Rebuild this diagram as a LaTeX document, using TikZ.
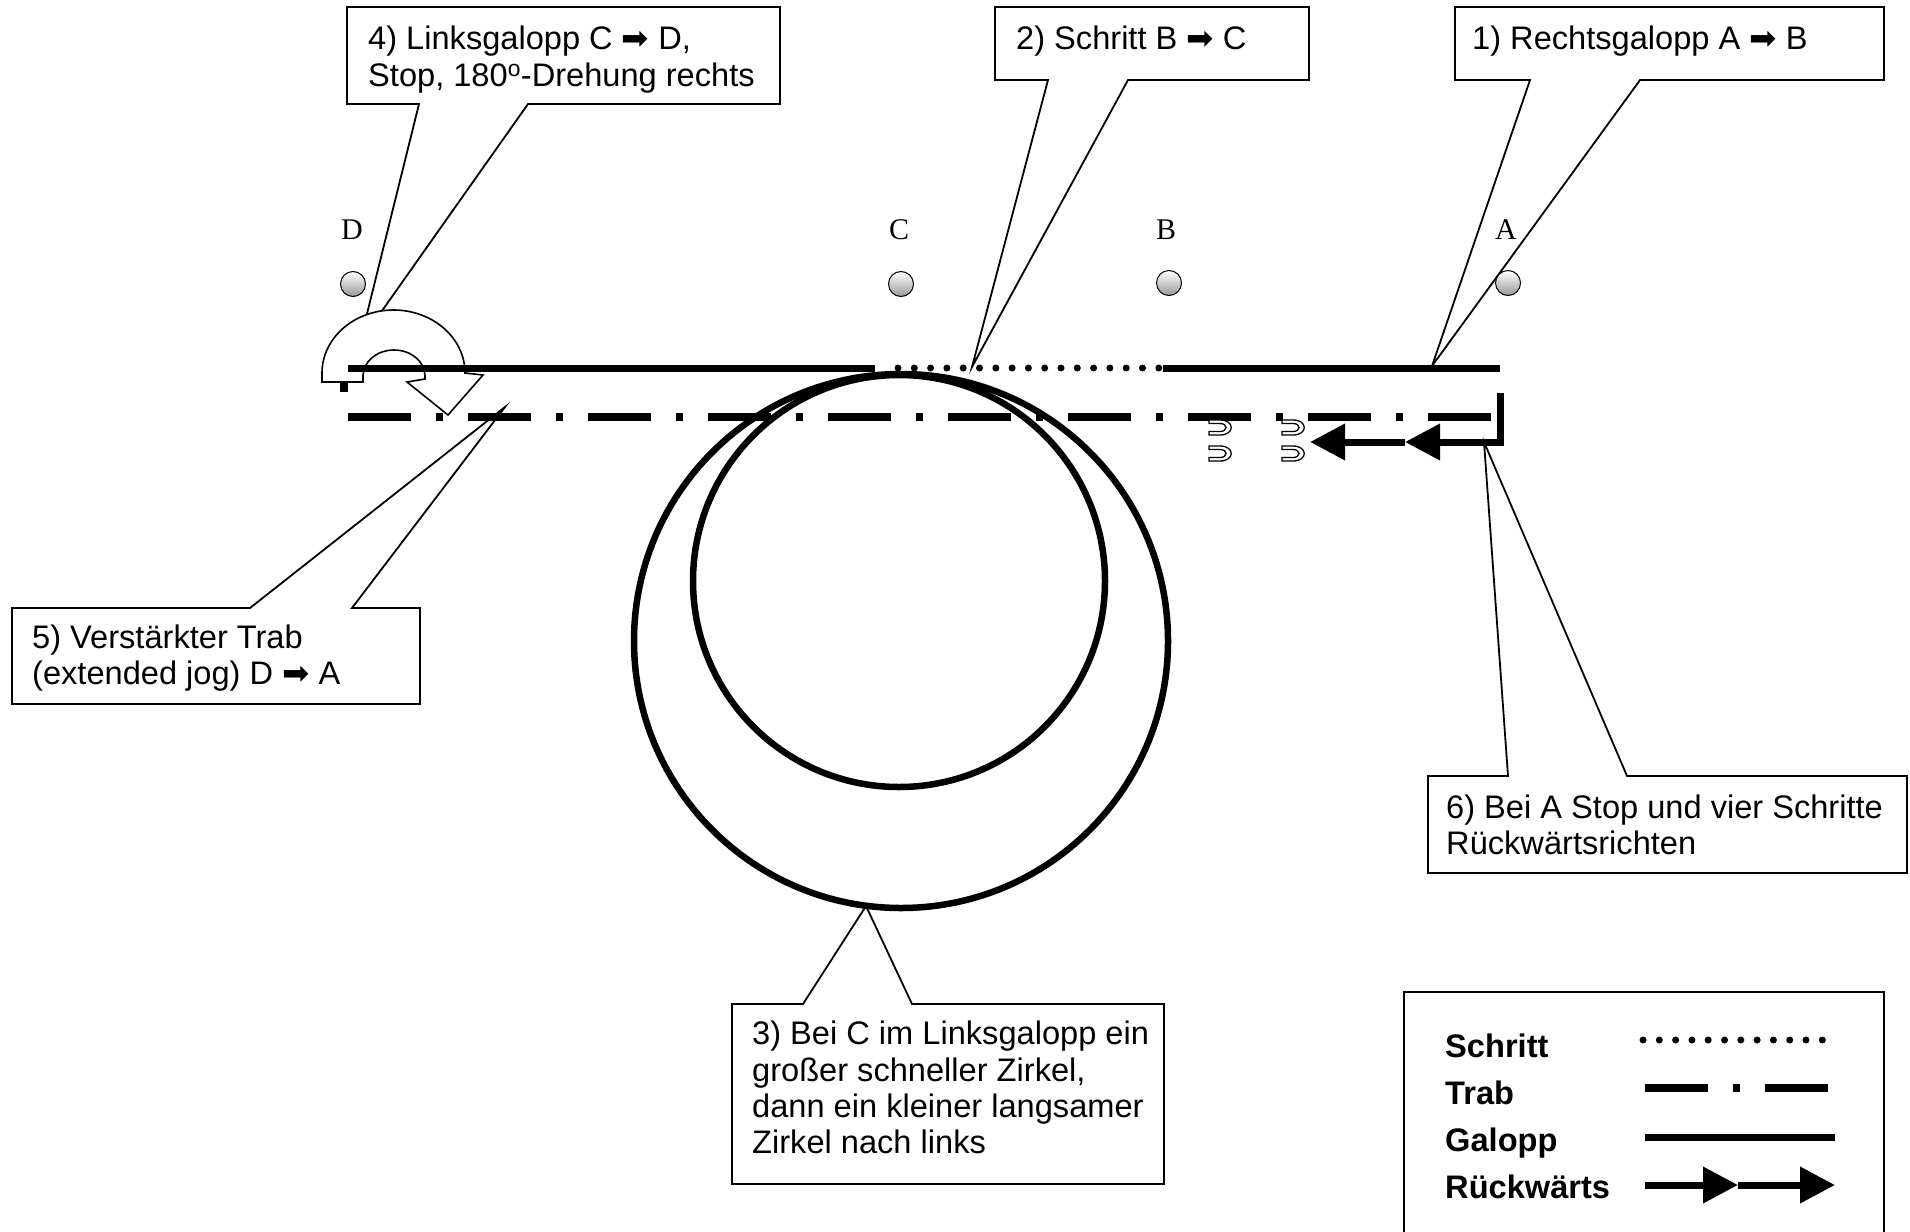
\documentclass[tikz,border=0pt]{standalone}
\usepackage{fontspec}
\setmainfont{Liberation Sans}
\newfontfamily\serifA{Liberation Serif}
\newfontfamily\symfont{DejaVu Sans}
\newcommand{\harr}{{\symfont ➡}}
\usetikzlibrary{arrows.meta}
\begin{document}
\begin{tikzpicture}[x=1pt,y=-1pt,
  callout/.style={draw=black, line width=1.8pt, fill=white, line join=miter},
  txt/.style={anchor=base west, inner sep=0pt, font=\fontsize{32.6}{36.3}\selectfont},
  legtxt/.style={anchor=base west, inner sep=0pt, font=\bfseries\fontsize{32.6}{36.3}\selectfont},
  lbl/.style={inner sep=0pt, font=\serifA\fontsize{30}{30}\selectfont},
  ball/.style={circle, draw=black, line width=1pt, minimum size=25pt, inner sep=0pt, top color=white, bottom color=gray!80},
  gal/.style={line width=7pt},
  trab/.style={line width=7.5pt, dash pattern=on 63pt off 25pt on 7pt off 25pt},
  schritt/.style={line width=7pt, line cap=round, dash pattern=on 0pt off 16.3pt},
  circ/.style={line width=6.5pt},
  back/.style={line width=7pt, -{Triangle[length=35pt,width=35pt]}},
  shoe/.style={draw=black, line width=1.3pt, fill=white},
  turn/.style={draw=black, line width=1.6pt, fill=white, line join=miter}
]
\useasboundingbox (0,0) rectangle (1910,1231);

% ---------- callouts ----------
\coordinate (tip4) at (360,342);
\coordinate (tip2) at (972,367);
\coordinate (tip1) at (1432,366);
\coordinate (tip5) at (505,407);
\coordinate (tip3) at (866,906);
\coordinate (tip6) at (1484,442);

\draw[callout] (347,7) -- (780,7) -- (780,104) -- (528,104) -- (tip4) -- (419,104) -- (347,104) -- cycle;
\draw[callout] (995,7) -- (1309,7) -- (1309,80) -- (1128,80) -- (tip2) -- (1048,80) -- (995,80) -- cycle;
\draw[callout] (1455,7) -- (1884,7) -- (1884,80) -- (1640,80) -- (tip1) -- (1530,80) -- (1455,80) -- cycle;
\draw[callout] (12,608) -- (250,608) -- (tip5) -- (352,608) -- (420,608) -- (420,704) -- (12,704) -- cycle;
\draw[callout] (732,1004) -- (803,1004) -- (tip3) -- (912,1004) -- (1164,1004) -- (1164,1184) -- (732,1184) -- cycle;
\draw[callout] (1428,776) -- (1508,776) -- (tip6) -- (1627,776) -- (1907,776) -- (1907,873) -- (1428,873) -- cycle;

\node[txt] (t4a) at (368,49) {4) Linksgalopp C \harr\ D,};
\node[txt] (t4b) at (368,86) {Stop, 180\textsuperscript{o}-Drehung rechts};
\node[txt] (t2) at (1016,49) {2) Schritt B \harr\ C};
\node[txt] (t1) at (1472,49) {1) Rechtsgalopp A \harr\ B};
\node[txt] (t5a) at (32,648) {5) Verstärkter Trab};
\node[txt] (t5b) at (32,684) {(extended jog) D \harr\ A};
\node[txt] (t3a) at (752,1044) {3) Bei C im Linksgalopp ein};
\node[txt] (t3b) at (752,1081) {großer schneller Zirkel,};
\node[txt] (t3c) at (752,1117) {dann ein kleiner langsamer};
\node[txt] (t3d) at (752,1153) {Zirkel nach links};
\node[txt] (t6a) at (1446,818) {6) Bei A Stop und vier Schritte};
\node[txt] (t6b) at (1446,854) {Rückwärtsrichten};

% ---------- turn at D ----------
\draw[line width=8pt] (344,370) -- (344,392);
\draw[turn] (322,382) -- (322,373) arc[start angle=180, end angle=0, x radius=71.5pt, y radius=63pt]
  -- (483,375) -- (448,415) -- (407,382) -- (425,379) -- (425,376)
  arc[start angle=0, end angle=180, x radius=31pt, y radius=26pt]
  -- (363,382) -- cycle;

% ---------- track lines ----------
\coordinate (gD) at (348,368);
\coordinate (gC) at (875,368);
\coordinate (sC) at (898,368);
\coordinate (sB) at (1161,368);
\coordinate (gB) at (1163,368);
\coordinate (gA) at (1500,368);
\draw[gal] (gD) -- (gC);
\draw[schritt] (sC) -- (sB);
\draw[gal] (gB) -- (gA);

\coordinate (tD) at (348,417);
\coordinate (tA) at (1500,417);
\draw[trab] (tD) -- (tA);

% circles
\node[circle, draw=black, circ, minimum size=534pt, inner sep=0pt] (big) at (901,641) {};
\node[circle, draw=black, circ, minimum size=412pt, inner sep=0pt] (small) at (899,581) {};

% backwards
\coordinate (vA) at (1500,393);
\coordinate (r0) at (1500,442);
\coordinate (r1) at (1405,442);
\coordinate (r2) at (1310,442);
\draw[line width=7pt] (vA) -- (1500,445.5);
\draw[back] (r0) -- (r1);
\draw[back] (r1) -- (r2);

% hoof prints
\foreach \hx/\hy in {1209/427.5, 1209/453.5, 1282/427.5, 1282/453.5}{
  \draw[shoe] (\hx,\hy-7.5) -- (\hx+11,\hy-7.5) .. controls (\hx+26,\hy-7.5) and (\hx+26,\hy+7.5) .. (\hx+11,\hy+7.5)
    -- (\hx,\hy+7.5) -- (\hx,\hy+4) -- (\hx+11,\hy+4) .. controls (\hx+19,\hy+4) and (\hx+19,\hy-4) .. (\hx+11,\hy-4)
    -- (\hx,\hy-4) -- cycle;
}

% ---------- markers ----------
\node[lbl] (lD) at (352,230) {D};
\node[lbl] (lC) at (899,230) {C};
\node[lbl] (lB) at (1166,230) {B};
\node[lbl] (lA) at (1506,230) {A};
\node[ball] (bD) at (353,284) {};
\node[ball] (bC) at (901,284) {};
\node[ball] (bB) at (1169,283) {};
\node[ball] (bA) at (1508,283) {};

% ---------- legend ----------
\draw[line width=1.8pt] (1404,1240) -- (1404,992) -- (1884,992) -- (1884,1240);
\node[legtxt] (lg1) at (1445,1057) {Schritt};
\node[legtxt] (lg2) at (1445,1104) {Trab};
\node[legtxt] (lg3) at (1445,1151) {Galopp};
\node[legtxt] (lg4) at (1445,1198) {Rückwärts};
\coordinate (ls0) at (1643,1040);
\coordinate (ls1) at (1825,1040);
\draw[schritt] (ls0) -- (ls1);
\coordinate (lt0) at (1645,1088);
\coordinate (lt1) at (1828,1088);
\draw[trab] (lt0) -- (lt1);
\coordinate (lgl0) at (1645,1137);
\coordinate (lgl1) at (1835,1137);
\draw[gal] (lgl0) -- (lgl1);
\coordinate (lr0) at (1645,1185);
\coordinate (lr1) at (1738,1185);
\coordinate (lr2) at (1835,1185);
\draw[back] (lr0) -- (lr1);
\draw[back] (lr1) -- (lr2);
\end{tikzpicture}
\end{document}
